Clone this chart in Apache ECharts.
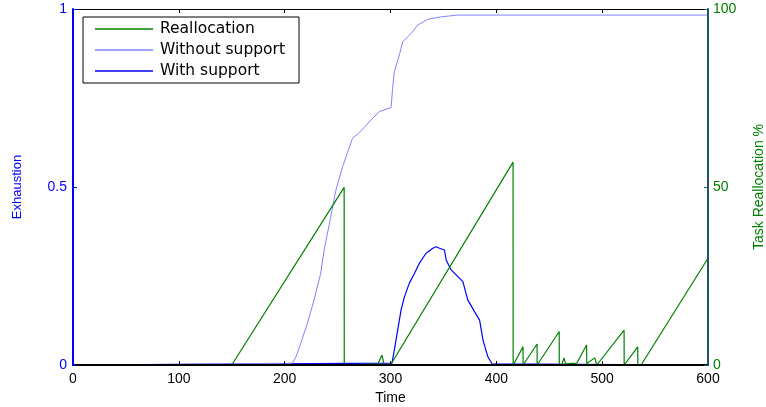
<!DOCTYPE html>
<html>
<head>
<meta charset="utf-8">
<script src="https://cdn.jsdelivr.net/npm/echarts@6/dist/echarts.min.js"></script>
<style>
html,body{margin:0;padding:0;background:#fff;}
#c{width:766px;height:407px;}
</style>
</head>
<body>
<div id="c"></div>
<script>
// ---- Data ----
var xTicks = [0, 100, 200, 300, 400, 500, 600];
var leftTicks = [0, 0.5, 1];
var rightTicks = [0, 50, 100];
var seriesNames = ['Reallocation', 'Without support', 'With support'];

// Reallocation (%), right axis
var reallocX = [0, 150, 256.2, 256.3, 288, 292, 294, 300, 415.8, 415.9, 416.4, 425.2, 425.3, 426.9, 438.5, 438.6, 439.5, 459.4, 459.5, 461.6, 464, 465.4, 476, 485.3, 485.4, 487, 493, 495, 496.3, 520.7, 520.8, 522.6, 533.6, 533.7, 534.9, 536.8, 600];
var reallocY = [0, 0, 49.9, 0, 0.3, 2.8, 0, 0, 57, 0, 0, 5.1, 0, 0, 5.9, 0, 0, 9.4, 0, 0, 2, 0.3, 0.5, 5.6, 0.4, 0.3, 2, 0, 0, 9.8, 0, 0, 5.1, 0, 0, 0, 30];

// Without support (exhaustion), left axis
var withoutX = [0, 207.3, 211, 215.2, 221.5, 227.8, 234.1, 237.3, 243.6, 248.3, 254.7, 259.4, 264.1, 272, 281.5, 289.4, 300.5, 302, 303.6, 308.4, 311.5, 319.4, 325.8, 335.2, 347.9, 363.7, 600];
var withoutY = [0, 0.005, 0.025, 0.061, 0.117, 0.183, 0.258, 0.323, 0.417, 0.49, 0.557, 0.597, 0.637, 0.657, 0.688, 0.712, 0.723, 0.777, 0.824, 0.871, 0.908, 0.931, 0.955, 0.971, 0.978, 0.983, 0.983];

// With support (exhaustion), left axis
var withX = [0, 301.4, 303.6, 306.8, 310, 313, 317.8, 322.6, 327.3, 333.6, 340, 343.1, 346.3, 351, 352.6, 357.3, 362, 368.4, 373, 379.4, 384.2, 387.4, 392, 396, 600];
var withY = [0, 0.005, 0.042, 0.098, 0.155, 0.19, 0.23, 0.257, 0.286, 0.314, 0.328, 0.332, 0.328, 0.323, 0.295, 0.267, 0.253, 0.234, 0.183, 0.15, 0.126, 0.07, 0.023, 0.003, 0];

function pairs(xs, ys) { return xs.map(function (x, i) { return [x, ys[i]]; }); }

var chart = echarts.init(document.getElementById('c'), null, {renderer: 'canvas'});
var font = 'Liberation Sans, Arial, Helvetica, sans-serif';
chart.setOption({
  animation: false,
  backgroundColor: '#fff',
  grid: {left: 73, right: 58, top: 9, bottom: 42, show: false, containLabel: false, outerBoundsMode: 'none'},
  legend: {
    data: seriesNames,
    orient: 'vertical',
    left: 83, top: 17,
    padding: [4, 14, 4, 12],
    itemGap: 5,
    icon: 'rect',
    itemWidth: 58,
    itemHeight: 1.5,
    backgroundColor: '#fff',
    borderColor: '#000',
    borderWidth: 1,
    borderRadius: 0,
    textStyle: {fontFamily: 'DejaVu Sans, sans-serif', fontSize: 15.5, lineHeight: 15, color: '#000', padding: [0, 0, 0, 2]}
  },
  xAxis: [{
    type: 'value', min: xTicks[0], max: xTicks[xTicks.length - 1], interval: 100,
    name: 'Time', nameLocation: 'middle', nameGap: 25,
    nameTextStyle: {fontFamily: font, fontSize: 14, color: '#000'},
    axisLine: {onZero: false, lineStyle: {color: '#000', width: 2}},
    axisTick: {inside: true, length: 4, lineStyle: {color: '#000'}},
    axisLabel: {fontFamily: font, fontSize: 14, color: '#000', margin: 7},
    splitLine: {show: false},
    z: 5
  }, {
    type: 'value', position: 'top', min: 0, max: 600, interval: 100,
    axisLine: {onZero: false, lineStyle: {color: '#000', width: 1}},
    axisTick: {inside: true, length: 4, lineStyle: {color: '#000'}},
    axisLabel: {show: false},
    splitLine: {show: false}
  }],
  yAxis: [{
    type: 'value', position: 'left', min: leftTicks[0], max: leftTicks[2], interval: 0.5,
    name: 'Exhaustion', nameLocation: 'middle', nameGap: 49, nameRotate: 90,
    nameTextStyle: {fontFamily: font, fontSize: 13, color: '#0000ff'},
    axisLine: {show: true, onZero: false, lineStyle: {color: '#0000ff', width: 2}},
    axisTick: {show: true, inside: true, length: 4, lineStyle: {color: '#0000ff'}},
    axisLabel: {fontFamily: font, fontSize: 14, color: '#0000ff', margin: 6},
    splitLine: {show: false},
    z: 6
  }, {
    type: 'value', position: 'right', min: rightTicks[0], max: rightTicks[2], interval: 50,
    name: 'Task Reallocation %', nameLocation: 'middle', nameGap: 44, nameRotate: 90,
    nameTextStyle: {fontFamily: font, fontSize: 14, color: '#008000'},
    axisLine: {show: true, onZero: false, lineStyle: {color: '#1f5566', width: 2}},
    axisTick: {show: true, inside: true, length: 4, lineStyle: {color: '#1f5566'}},
    axisLabel: {fontFamily: font, fontSize: 14, color: '#008000', margin: 5},
    splitLine: {show: false},
    z: 6
  }],
  series: [{
    name: 'With support', type: 'line', xAxisIndex: 0, yAxisIndex: 0,
    data: pairs(withX, withY), symbol: 'none', smooth: false,
    lineStyle: {color: '#0000ff', width: 1.2}, itemStyle: {color: '#0000ff'}
  }, {
    name: 'Without support', type: 'line', xAxisIndex: 0, yAxisIndex: 0,
    data: pairs(withoutX, withoutY), symbol: 'none', smooth: false,
    lineStyle: {color: '#8080ff', width: 1}, itemStyle: {color: '#8080ff'}
  }, {
    name: 'Reallocation', type: 'line', xAxisIndex: 0, yAxisIndex: 1,
    data: pairs(reallocX, reallocY), symbol: 'none', smooth: false,
    lineStyle: {color: '#008000', width: 1.2}, itemStyle: {color: '#008000'}
  }]
});
</script>
</body>
</html>
